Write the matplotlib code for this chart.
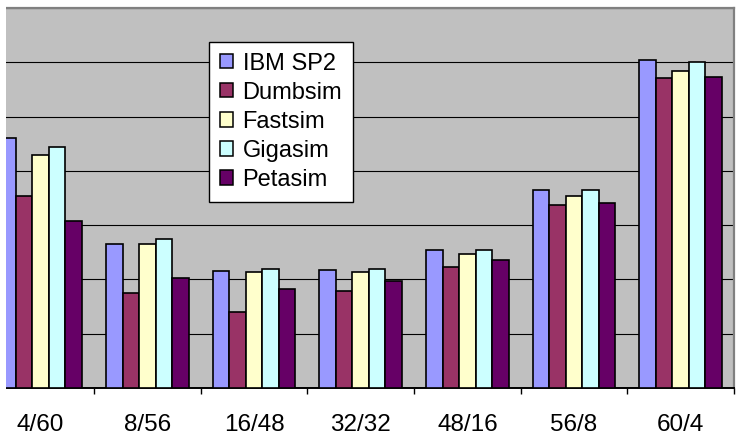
import numpy as np
import matplotlib
matplotlib.use("Agg")
import matplotlib.pyplot as plt
from matplotlib.patches import Patch, Rectangle

# -------------------------
# Data
# -------------------------
categories = ["4/60", "8/56", "16/48", "32/32", "48/16", "56/8", "60/4"]
series_names = ["IBM SP2", "Dumbsim", "Fastsim", "Gigasim", "Petasim"]
ibm_sp2 = [46.0, 26.5, 21.6, 21.7, 25.4, 36.5, 60.4]
dumbsim = [35.4, 17.5, 14.0, 17.9, 22.3, 33.8, 57.1]
fastsim = [42.9, 26.5, 21.3, 21.3, 24.7, 35.3, 58.4]
gigasim = [44.4, 27.4, 22.0, 22.0, 25.4, 36.5, 60.0]
petasim = [30.8, 20.3, 18.2, 19.8, 23.6, 34.1, 57.3]
colors = ["#9999FF", "#993366", "#FFFFCC", "#CCFFFF", "#660066"]

plt.rcParams["font.family"] = ["Liberation Sans", "DejaVu Sans"]

W, H = 736, 441
fig = plt.figure(figsize=(W / 100, H / 100), dpi=100)
# plot area runs slightly past the left edge of the figure
ax = fig.add_axes([-12.7 / W, (H - 388) / H, 746.7 / W, 380 / H])
ax.set_facecolor("#C0C0C0")

x = np.arange(len(categories))
bw = 0.155
for i, (vals, c) in enumerate(zip([ibm_sp2, dumbsim, fastsim, gigasim, petasim], colors)):
    ax.bar(x + (i - 2) * bw, vals, width=bw, color=c, edgecolor="black",
           linewidth=1.2, zorder=3)

ax.set_xlim(-0.5, len(categories) - 0.5)
ax.set_ylim(0, 70)
ax.set_yticks(np.arange(0, 71, 10))
ax.yaxis.grid(True, color="black", linewidth=0.8, zorder=1)
ax.tick_params(axis="y", left=False, labelleft=False)

ax.set_xticks(x)
ax.set_xticklabels(categories, fontsize=17.5)
ax.set_xticks(np.arange(-0.5, len(categories)), minor=True)
ax.tick_params(axis="x", which="major", length=0, pad=19)
ax.tick_params(axis="x", which="minor", length=4.5, width=1, color="black", direction="out")

ax.spines["left"].set_visible(False)
ax.spines["bottom"].set_color("black")
ax.spines["bottom"].set_linewidth(1.4)
for s in ("top", "right"):
    ax.spines[s].set_color("#808080")
    ax.spines[s].set_linewidth(1.6)
ax.set_axisbelow(True)

handles = [Patch(facecolor=c, edgecolor="black", linewidth=1.1) for c in colors]
leg = fig.legend(handles, series_names, loc="upper left",
                 bbox_to_anchor=(209 / W, 1 - 42 / H), fontsize=17,
                 frameon=True, fancybox=False, framealpha=1, edgecolor="black",
                 handlelength=0.55, handleheight=0.55, handletextpad=0.42,
                 labelspacing=0.3, borderpad=0.45, borderaxespad=0)
leg.get_frame().set_linewidth(1.0)

# white margin strip on the left
fig.add_artist(Rectangle((0, 0), 6 / W, 1, transform=fig.transFigure,
                         facecolor="white", edgecolor="none", zorder=10))

fig.savefig("out.png", dpi=100, facecolor="white")
